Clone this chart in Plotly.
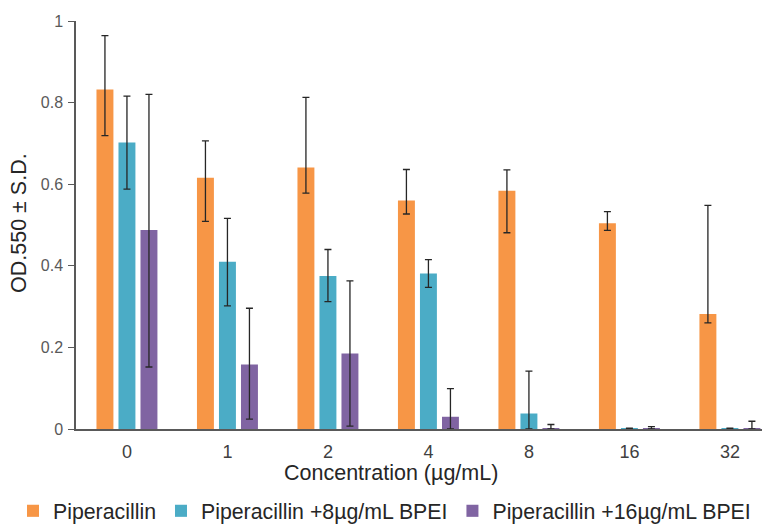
import plotly.graph_objects as go

categories = ["0", "1", "2", "4", "8", "16", "32"]
series_names = ["Piperacillin", "Piperacillin +8µg/mL BPEI", "Piperacillin +16µg/mL BPEI"]
colors = ["#F79646", "#4BACC6", "#8064A2"]

pip = [0.832, 0.616, 0.641, 0.560, 0.584, 0.504, 0.282]
pip_up = [0.132, 0.090, 0.172, 0.076, 0.051, 0.029, 0.266]
pip_dn = [0.113, 0.107, 0.063, 0.033, 0.103, 0.017, 0.022]

pip8 = [0.702, 0.410, 0.375, 0.381, 0.038, 0.001, 0.001]
pip8_up = [0.114, 0.106, 0.065, 0.034, 0.104, 0.001, 0.001]
pip8_dn = [0.114, 0.108, 0.063, 0.034, 0.038, 0.001, 0.001]

pip16 = [0.488, 0.158, 0.185, 0.030, 0.002, 0.001, 0.002]
pip16_up = [0.332, 0.138, 0.178, 0.069, 0.009, 0.005, 0.017]
pip16_dn = [0.336, 0.134, 0.178, 0.030, 0.002, 0.001, 0.002]

values = [pip, pip8, pip16]
ups = [pip_up, pip8_up, pip16_up]
dns = [pip_dn, pip8_dn, pip16_dn]

FONT = "Liberation Sans, Arial, sans-serif"
# page body has an 8px margin, so the figure is drawn 8px smaller and offset
OFF = 8
W, H = 770 - OFF, 525 - OFF
L, R, T, B = 76 - OFF, 2, 21 - OFF, 96
PW, PH = W - L - R, H - T - B


def px_x(page_x):
    return (page_x - OFF - L) / PW


def px_y(page_y):
    return (T + PH - (page_y - OFF)) / PH


fig = go.Figure()
for name, col, v, u, d in zip(series_names, colors, values, ups, dns):
    fig.add_trace(go.Bar(
        x=categories, y=v, name=name,
        marker=dict(color=col, line=dict(width=0)),
        error_y=dict(type="data", symmetric=False, array=u, arrayminus=d,
                     color="#262626", thickness=1.3, width=3.5),
    ))

fig.update_layout(
    width=W, height=H,
    margin=dict(l=L, r=R, t=T, b=B, autoexpand=False),
    paper_bgcolor="white", plot_bgcolor="white",
    barmode="group", bargap=0.343, bargroupgap=0.23,
    font=dict(family=FONT, color="#262626"),
    showlegend=True,
    legend=dict(orientation="h", x=px_x(13), xref="paper", y=px_y(511), yref="paper",
                yanchor="middle", xanchor="left",
                font=dict(size=21.3, color="#262626"), itemwidth=30,
                tracegroupgap=0, traceorder="normal"),
    xaxis=dict(type="category", range=[-0.507, 6.379], showline=True,
               linecolor="#595959", linewidth=2, ticks="", showgrid=False,
               tickfont=dict(size=18, color="#404040"), ticklabelstandoff=5),
    yaxis=dict(range=[0, 1], showline=True, linecolor="#595959", linewidth=1.5,
               ticks="outside", ticklen=6, tickcolor="#595959", showgrid=False,
               zeroline=False, tickvals=[0, 0.2, 0.4, 0.6, 0.8, 1],
               ticktext=["0", "0.2", "0.4", "0.6", "0.8", "1"],
               tickfont=dict(size=16, color="#595959"), ticklabelstandoff=2),
    annotations=[
        dict(text="OD.550 ± S.D.", xref="paper", yref="paper", x=px_x(19), y=px_y(223),
             xanchor="center", yanchor="middle", textangle=-90, showarrow=False,
             font=dict(size=21.5, color="#262626")),
        dict(text="Concentration (µg/mL)", xref="paper", yref="paper",
             x=px_x(391), y=px_y(473), xanchor="center", yanchor="middle",
             showarrow=False, font=dict(size=21.5, color="#262626")),
    ],
)

fig.write_html("out.html")
